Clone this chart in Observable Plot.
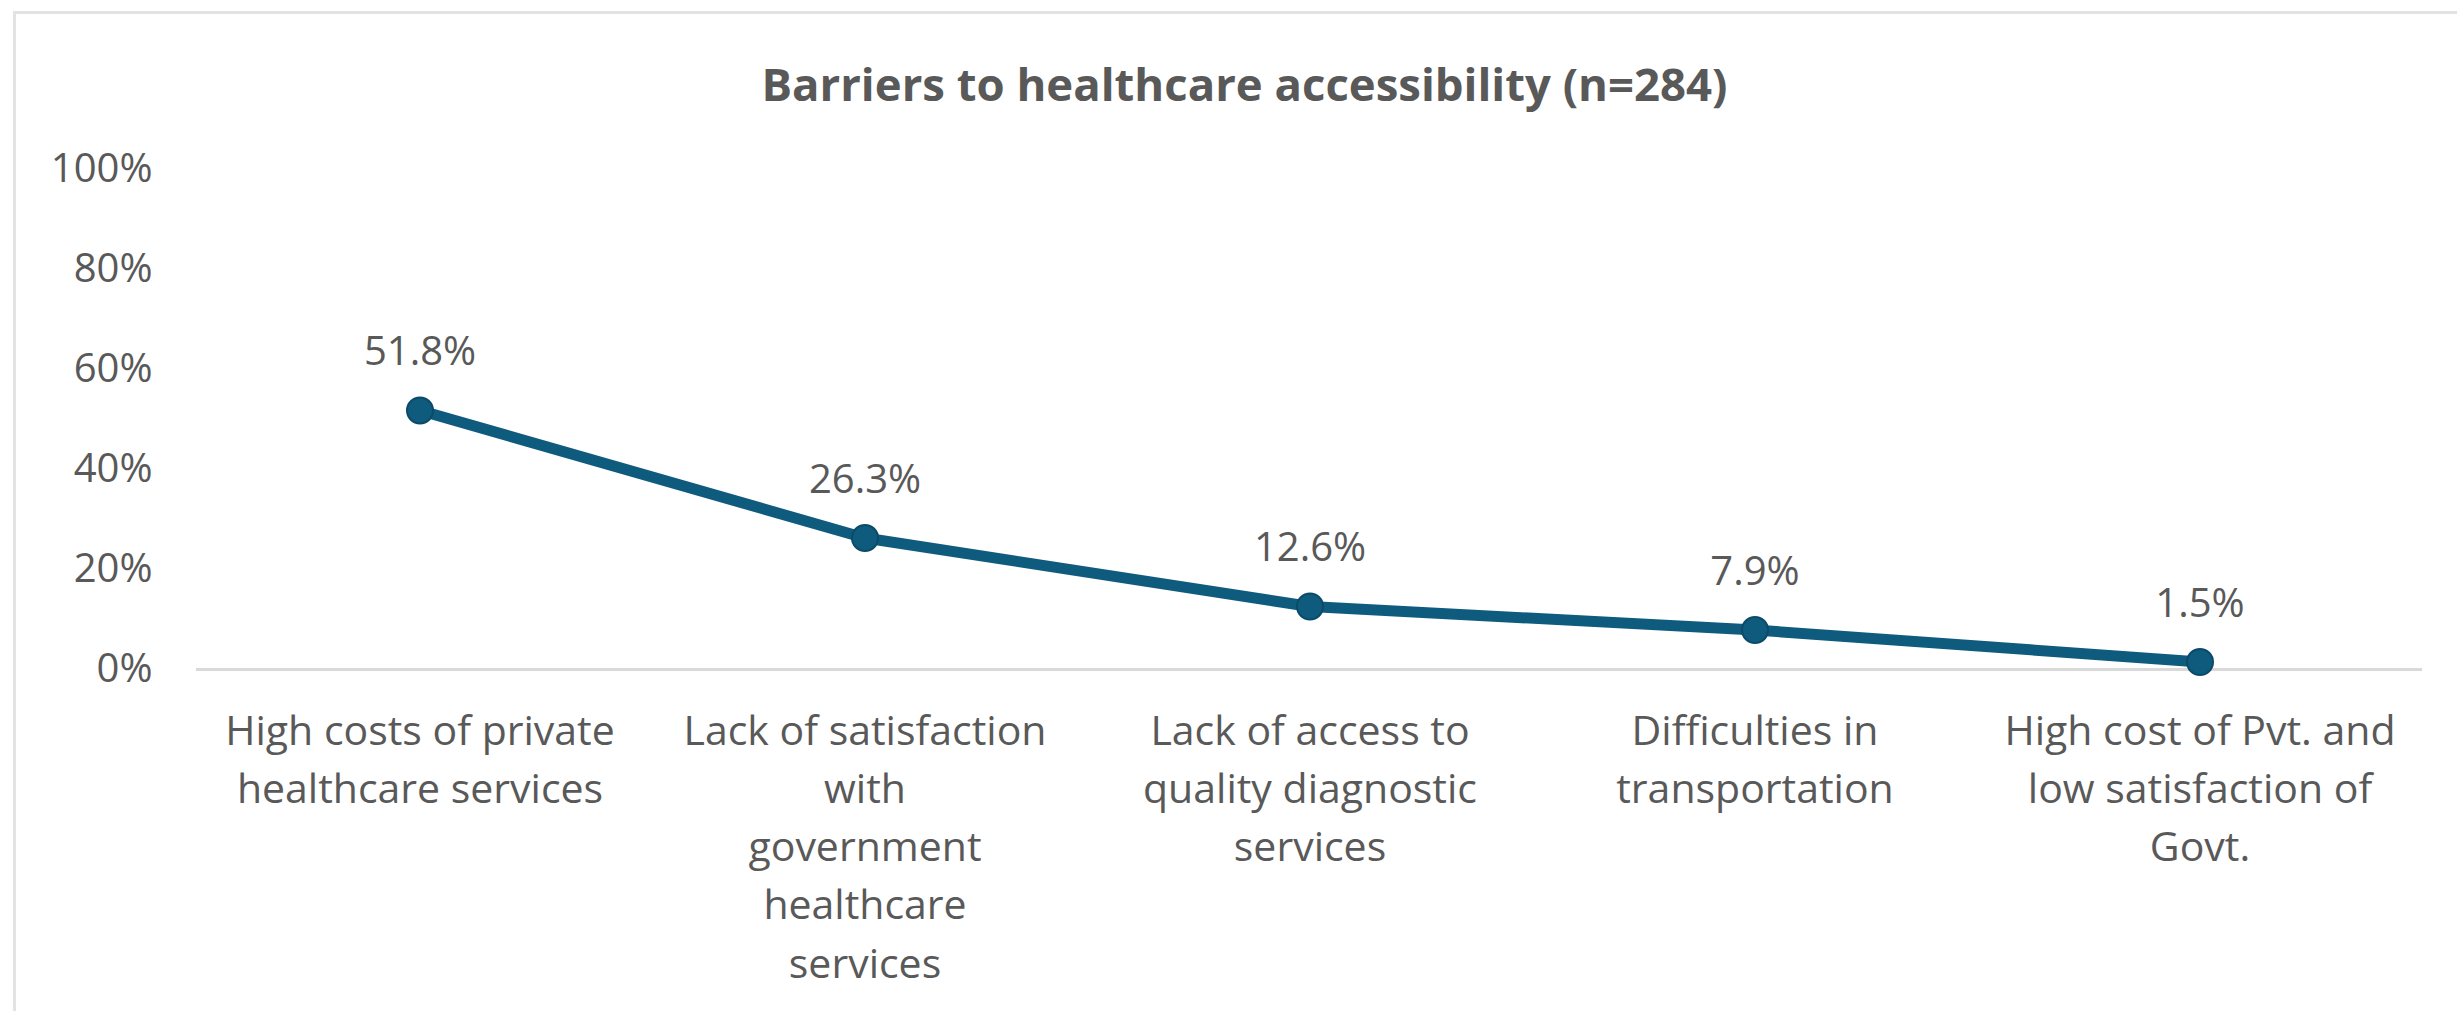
<!DOCTYPE html>
<html>
<head>
<meta charset="utf-8">
<script src="https://cdn.jsdelivr.net/npm/d3@7"></script>
<script src="https://cdn.jsdelivr.net/npm/@observablehq/plot@0.6"></script>
<style>
  html, body { margin: 0; padding: 0; background: #fff; }
  body { width: 2457px; height: 1011px; overflow: hidden; position: relative; font-family: "Open Sans", sans-serif; }
  #frame { position: absolute; left: 13px; top: 11px; width: 2500px; height: 1100px; border: 3px solid #e3e3e3; box-sizing: border-box; pointer-events: none; }
  #title { position: relative; height: 130px; box-sizing: border-box; padding-top: 60px; text-align: center; font-size: 45.5px; line-height: 46px; font-weight: 700; color: #595959; }
  #title span { position: relative; left: 16px; }
  #chart svg { display: block; }
</style>
</head>
<body>
<div id="frame"></div>
<div id="title"><span>Barriers to healthcare accessibility (n=284)</span></div>
<div id="chart"></div>
<script>
const categories = [
  "High costs of private healthcare services",
  "Lack of satisfaction with government healthcare services",
  "Lack of access to quality diagnostic services",
  "Difficulties in transportation",
  "High cost of Pvt. and low satisfaction of Govt."
];
const tickLabels = [
  "High costs of private\nhealthcare services",
  "Lack of satisfaction\nwith\ngovernment\nhealthcare\nservices",
  "Lack of access to\nquality diagnostic\nservices",
  "Difficulties in\ntransportation",
  "High cost of Pvt. and\nlow satisfaction of\nGovt."
];
const values = [51.8, 26.3, 12.6, 7.9, 1.5];
const yTicks = [0, 20, 40, 60, 80, 100];

const data = categories.map((c, i) => ({category: c, value: values[i]}));
const labelOf = new Map(categories.map((c, i) => [c, tickLabels[i]]));

const ink = "#595959";
const lineColor = "#0f5b7e";

const chart = Plot.plot({
  width: 2457,
  height: 881,
  marginTop: 39,
  marginBottom: 342,
  marginLeft: 196,
  marginRight: 35,
  style: {fontFamily: "'Open Sans', sans-serif", color: ink, background: "transparent"},
  x: {type: "band", domain: categories, padding: 0},
  y: {domain: [0, 100]},
  marks: [
    Plot.ruleY([0], {stroke: "#d9d9d9", strokeWidth: 3}),
    Plot.axisY({
      ticks: yTicks,
      tickSize: 0,
      tickPadding: 44,
      tickFormat: d => d + "%",
      fontSize: 40,
      fill: ink,
      label: null
    }),
    Plot.axisX({
      tickSize: 0,
      tickPadding: 34,
      tickFormat: d => labelOf.get(d),
      fontSize: 41,
      lineHeight: 1.42,
      fill: ink,
      label: null
    }),
    Plot.line(data, {x: "category", y: "value", stroke: lineColor, strokeWidth: 11, strokeLinejoin: "round", strokeLinecap: "round"}),
    Plot.dot(data, {x: "category", y: "value", r: 13, fill: lineColor, stroke: "#0b4a68", strokeWidth: 2}),
    Plot.text(data, {x: "category", y: "value", text: d => d.value.toFixed(1) + "%", dy: -58, fontSize: 40, fill: ink})
  ]
});
document.getElementById("chart").append(chart);
</script>
</body>
</html>
